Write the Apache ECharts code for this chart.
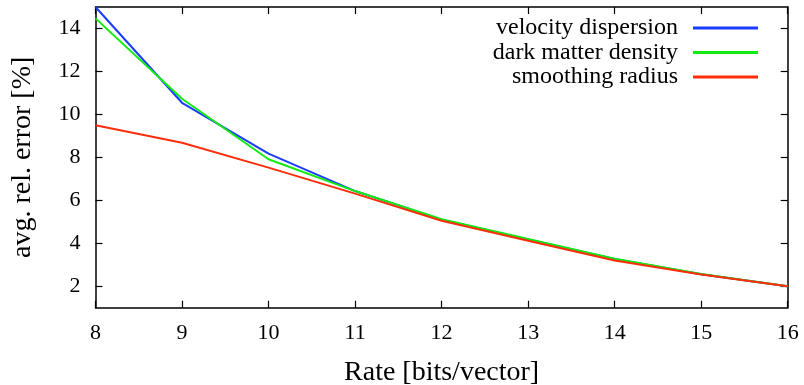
<!DOCTYPE html>
<html>
<head>
<meta charset="utf-8">
<script src="https://cdn.jsdelivr.net/npm/echarts@6/dist/echarts.min.js"></script>
<style>html,body{margin:0;padding:0;background:#fff}#c{width:804px;height:385px}</style>
</head>
<body>
<div id="c"></div>
<script>
const rates = [8, 9, 10, 11, 12, 13, 14, 15, 16];
const velocityDispersion = [15.0, 10.54, 8.17, 6.43, 5.1, 4.18, 3.27, 2.56, 2.0];
const darkMatterDensity = [14.47, 10.73, 7.91, 6.43, 5.12, 4.2, 3.28, 2.57, 2.0];
const smoothingRadius = [9.49, 8.68, 7.52, 6.31, 5.05, 4.12, 3.2, 2.55, 2.0];
const xTicks = [8, 9, 10, 11, 12, 13, 14, 15, 16];
const yTicks = [2, 4, 6, 8, 10, 12, 14];

const FONT = '"Liberation Serif", "Times New Roman", serif';
const pair = a => rates.map((r, i) => [r, a[i]]);
const chart = echarts.init(document.getElementById('c'));
const axisLine = {show: true, lineStyle: {color: '#000', width: 1.5}};
const tick = {show: true, inside: true, length: 7, lineStyle: {color: '#000', width: 1.2}};
chart.setOption({
  animation: false,
  backgroundColor: '#fff',
  grid: {left: 95.5, right: 16.3, top: 7, bottom: 77.3, containLabel: false, outerBoundsMode: 'none'},
  legend: {
    orient: 'vertical', right: 41, top: 11, align: 'right',
    icon: 'rect', itemWidth: 65, itemHeight: 3, itemGap: 0.5,
    textStyle: {fontFamily: FONT, fontSize: 24, lineHeight: 24, color: '#000', padding: [0, 10, 0, 0]},
    data: ['velocity dispersion', 'dark matter density', 'smoothing radius']
  },
  xAxis: [{
    type: 'value', min: 8, max: 16, interval: 1,
    name: 'Rate [bits/vector]', nameLocation: 'middle', nameGap: 51,
    nameTextStyle: {fontFamily: FONT, fontSize: 28, color: '#000'},
    axisLine, axisTick: {...tick, customValues: xTicks}, splitLine: {show: false},
    axisLabel: {fontFamily: FONT, fontSize: 22, color: '#000', margin: 15, customValues: xTicks}
  }, {
    type: 'value', min: 8, max: 16, interval: 1, position: 'top',
    axisLine, axisTick: tick, splitLine: {show: false}, axisLabel: {show: false}
  }],
  yAxis: [{
    type: 'value', min: 1, max: 15,
    name: 'avg. rel. error [%]', nameLocation: 'middle', nameGap: 59,
    nameTextStyle: {fontFamily: FONT, fontSize: 28, color: '#000'},
    axisLine, axisTick: {...tick, customValues: yTicks}, splitLine: {show: false},
    axisLabel: {fontFamily: FONT, fontSize: 22, color: '#000', margin: 15, customValues: yTicks}
  }, {
    type: 'value', min: 1, max: 15, position: 'right',
    axisLine, axisTick: {...tick, customValues: yTicks}, splitLine: {show: false}, axisLabel: {show: false}
  }],
  series: [
    {name: 'velocity dispersion', type: 'line', data: pair(velocityDispersion), showSymbol: false, color: '#1a3cff', lineStyle: {width: 2}, z: 2},
    {name: 'dark matter density', type: 'line', data: pair(darkMatterDensity), showSymbol: false, color: '#12ea12', lineStyle: {width: 2}, z: 3},
    {name: 'smoothing radius', type: 'line', data: pair(smoothingRadius), showSymbol: false, color: '#ff2d0a', lineStyle: {width: 2}, z: 4}
  ]
});
</script>
</body>
</html>
